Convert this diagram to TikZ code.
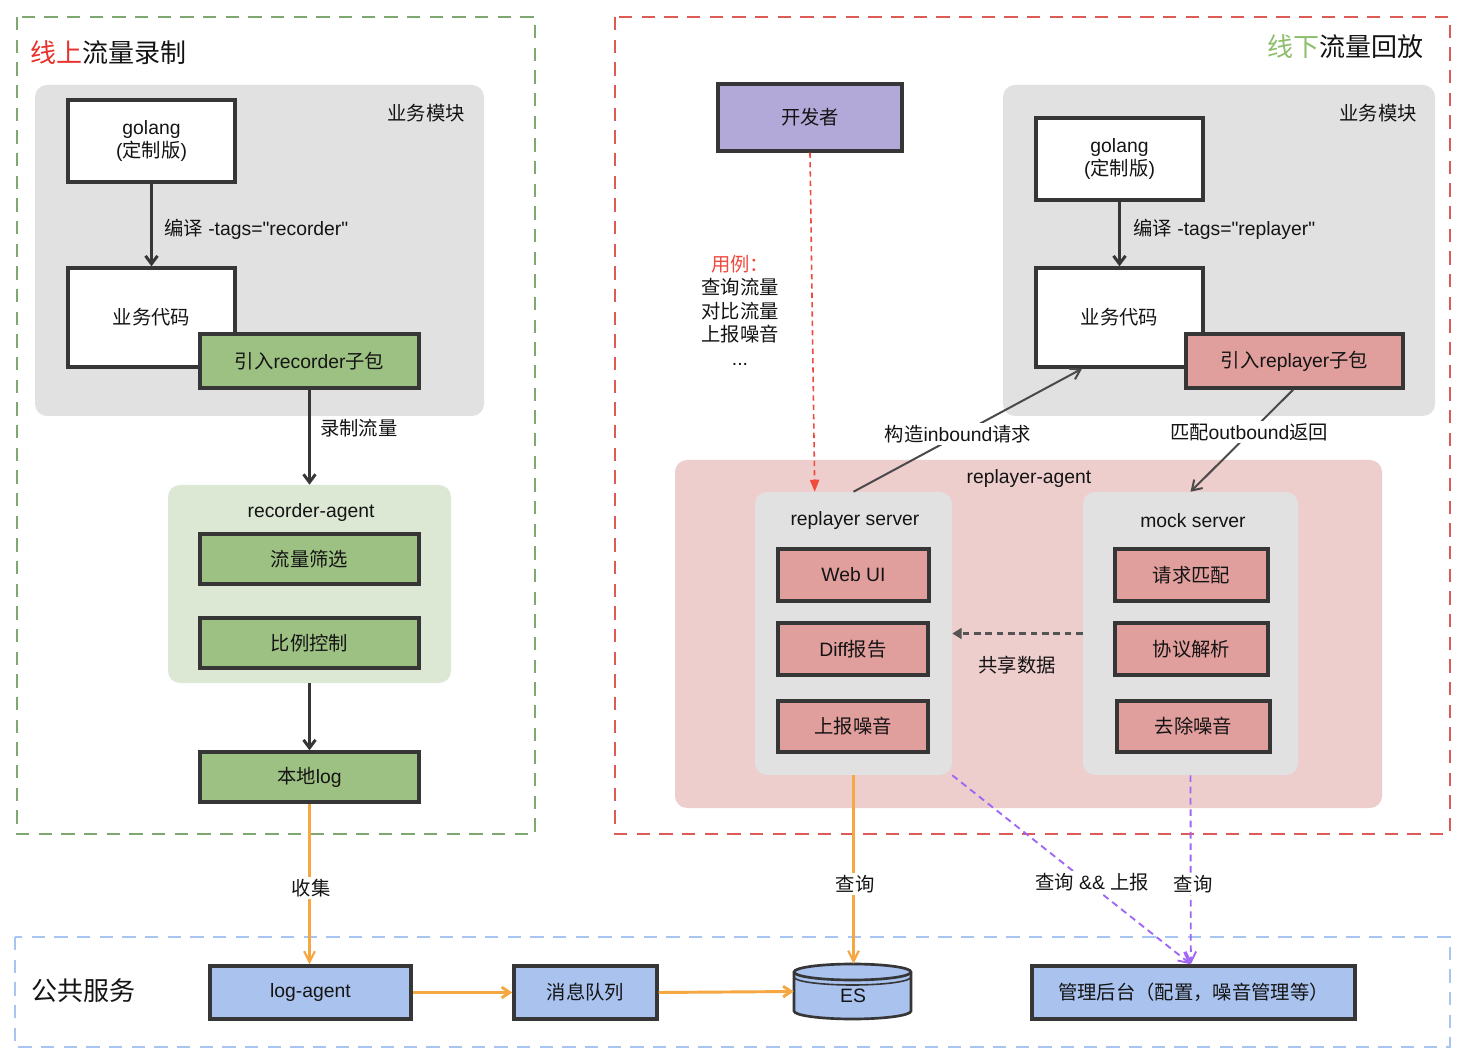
\documentclass[tikz,border=0pt]{standalone}
\usepackage{fontspec}
\setmainfont{Liberation Sans}
\newfontfamily\cjkfont{Noto Sans CJK SC}
\newfontfamily\latinfont{Liberation Sans}
\usetikzlibrary{arrows.meta,calc}

\XeTeXinterchartokenstate=1
\newXeTeXintercharclass\CJKcls
\newcount\mycc
\mycc="3000 \loop \XeTeXcharclass\mycc=\CJKcls \ifnum\mycc<"303F \advance\mycc by 1 \repeat
\mycc="4E00 \loop \XeTeXcharclass\mycc=\CJKcls \ifnum\mycc<"9FFF \advance\mycc by 1 \repeat
\mycc="FF00 \loop \XeTeXcharclass\mycc=\CJKcls \ifnum\mycc<"FFEF \advance\mycc by 1 \repeat
\XeTeXinterchartoks 0 \CJKcls = {\cjkfont}
\XeTeXinterchartoks 4095 \CJKcls = {\cjkfont}
\XeTeXinterchartoks \CJKcls 0 = {\latinfont}
\XeTeXinterchartoks \CJKcls 4095 = {\latinfont}

\definecolor{bord}{HTML}{363636}
\definecolor{txt}{HTML}{141414}
\definecolor{gray1}{HTML}{E1E1E1}
\definecolor{gfill}{HTML}{9DC183}
\definecolor{lgreen}{HTML}{DCE8D4}
\definecolor{pinkbg}{HTML}{EECDCD}
\definecolor{pfill}{HTML}{E09E9C}
\definecolor{purfill}{HTML}{B2A9D8}
\definecolor{bfill}{HTML}{A9C2EE}
\definecolor{orng}{HTML}{F5A742}
\definecolor{purl}{HTML}{A066F5}
\definecolor{redl}{HTML}{EE4A3E}
\definecolor{titlered}{HTML}{E8312A}
\definecolor{titlegreen}{HTML}{8DBE6A}
\definecolor{framegreen}{HTML}{7FA870}
\definecolor{framered}{HTML}{DD5A55}
\definecolor{frameblue}{HTML}{A8C4F0}

\newcommand\bx[7]{\node[#6, minimum width={(#4-#2)*0.75pt}, minimum height={(#5-#3)*0.75pt}] (#1) at ({(#2+#4)/2},{(#3+#5)/2}) {#7};}

\tikzset{
  box/.style={draw=bord, line width=2.6pt, inner sep=0pt, align=center, text=txt},
  region/.style={rounded corners=9pt, inner sep=0pt, draw=none},
  lbl/.style={inner sep=1.5pt, text=txt, align=center},
  ttl/.style={inner sep=0pt, text=txt, font=\fontsize{19.5pt}{22pt}\selectfont},
  frame/.style={line width=1.6pt, dash pattern=on 10pt off 7pt},
  arr/.style={draw=bord, line width=2.2pt, -{Straight Barb[length=6pt,width=9pt]}},
  thinarr/.style={draw=bord!90, line width=1.5pt, -{Straight Barb[length=7pt,width=9pt]}},
  orarr/.style={draw=orng, line width=1.6pt, -{Straight Barb[length=8pt,width=8pt]}},
  orarrb/.style={draw=orng, line width=2.2pt, -{Straight Barb[length=6pt,width=8pt]}},
  purarr/.style={draw=purl, line width=1.4pt, dash pattern=on 5pt off 3.5pt, -{Straight Barb[length=8pt,width=8pt]}},
}

\begin{document}
\begin{tikzpicture}[x=0.75pt,y=-0.75pt, font=\fontsize{14.5pt}{17.25pt}\selectfont]
\useasboundingbox (0,0) rectangle (1472,1062);
\fill[white] (0,0) rectangle (1472,1062);

% frames
\draw[frame, draw=framegreen] (17,17) rectangle (535,834);
\draw[frame, draw=framered] (615,17) rectangle (1450,834);
\draw[frame, draw=frameblue] (15,937) rectangle (1450,1047);

\node[ttl, anchor=west] (t1) at (30,53) {{\color{titlered}线上}流量录制};
\node[ttl, anchor=east] (t2) at (1424,47) {{\color{titlegreen}线下}流量回放};
\node[ttl, anchor=west] (t3) at (31,991) {公共服务};

% ---------- left ----------
\bx{biz1}{35}{85}{484}{416}{region, fill=gray1}{}
\node[lbl, anchor=east] (biz1l) at (467,113) {业务模块};
\bx{golang1}{68}{100}{235}{182}{box, fill=white}{golang\\(定制版)}
\bx{code1}{68}{268}{235}{367}{box, fill=white}{业务代码}
\bx{rec}{200}{334}{419}{388}{box, fill=gfill}{引入recorder子包}
\draw[arr] (golang1) -- (code1);
\node[lbl, anchor=west] (c1l) at (162,229) {编译 -tags="recorder"};

\bx{ragent}{168}{485}{451}{683}{region, fill=lgreen}{}
\node[lbl] (ragentl) at (311,513) {recorder-agent};
\bx{filt}{200}{534}{419}{584}{box, fill=gfill}{流量筛选}
\bx{ratio}{200}{618}{419}{668}{box, fill=gfill}{比例控制}
\bx{llog}{200}{752}{419}{802}{box, fill=gfill}{本地log}
\draw[arr] (rec.south) -- (rec.south |- ragent.north);
\node[lbl, anchor=west] (recl) at (318,428) {录制流量};
\draw[arr] (llog.north |- ragent.south) -- (llog.north);

% ---------- right ----------
\bx{dev}{718}{84}{902}{151}{box, fill=purfill}{开发者}
\node[lbl, font=\fontsize{14.5pt}{17.6pt}\selectfont] (uc) at (740,310) {{\color{redl}用例：}\\查询流量\\对比流量\\上报噪音\\...};

\bx{biz2}{1003}{85}{1435}{416}{region, fill=gray1}{}
\node[lbl, anchor=east] (biz2l) at (1419,113) {业务模块};
\bx{golang2}{1036}{118}{1203}{200}{box, fill=white}{golang\\(定制版)}
\bx{code2}{1036}{268}{1203}{367}{box, fill=white}{业务代码}
\bx{repk}{1186}{334}{1403}{388}{box, fill=pfill}{引入replayer子包}
\draw[arr] (golang2) -- (code2);
\node[lbl, anchor=west] (c2l) at (1131,229) {编译 -tags="replayer"};

\bx{ragent2}{675}{460}{1382}{808}{region, fill=pinkbg}{}
\node[lbl] (ragent2l) at (1029,479) {replayer-agent};
\bx{rs}{755}{492}{952}{775}{region, fill=gray1}{}
\node[lbl] (rsl) at (855,521) {replayer server};
\bx{webui}{778}{549}{929}{601}{box, fill=pfill}{Web UI}
\bx{diff}{778}{623}{928}{675}{box, fill=pfill}{Diff报告}
\bx{noise}{778}{701}{928}{752}{box, fill=pfill}{上报噪音}
\bx{ms}{1083}{492}{1298}{775}{region, fill=gray1}{}
\node[lbl] (msl) at (1193,521) {mock server};
\bx{match}{1115}{549}{1268}{601}{box, fill=pfill}{请求匹配}
\bx{proto}{1115}{623}{1268}{675}{box, fill=pfill}{协议解析}
\bx{denoise}{1117}{701}{1270}{752}{box, fill=pfill}{去除噪音}

\draw[draw=bord!85, line width=2.3pt, dash pattern=on 5pt off 3.5pt, -{Triangle[length=7pt,width=8pt]}] (ms.west) -- (rs.east);
\node[lbl] (sharel) at (1017,665) {共享数据};

\draw[redl, line width=1.2pt, dash pattern=on 4pt off 3pt, -{Triangle[length=9pt,width=7pt]}] (dev.south) -- ([xshift=45pt]rs.north west);

\draw[thinarr] (rs.north) -- ($(code2.south west)!0.28!(code2.south east)$);
\node[lbl, fill=white] (inl) at (958,434) {构造inbound请求};
\draw[thinarr] ([xshift=-1pt]repk.south) -- (ms.north);
\node[lbl, fill=white] (outl) at (1249,432) {匹配outbound返回};

% ---------- bottom ----------
\bx{logagent}{210}{966}{411}{1019}{box, fill=bfill}{log-agent}
\bx{mq}{514}{966}{657}{1019}{box, fill=bfill}{消息队列}
\bx{mgmt}{1032}{966}{1355}{1019}{box, fill=bfill}{管理后台（配置，噪音管理等）}
\node[inner sep=0pt, minimum width={117*0.75pt}, minimum height={55*0.75pt}] (es) at (852.5,991.5) {};
\filldraw[fill=bfill, draw=bord, line width=2pt]
  (794,972) -- (794,1011) arc[start angle=180, end angle=360, x radius=43.875pt, y radius=6pt]
  -- (911,972) arc[start angle=0, end angle=180, x radius=43.875pt, y radius=6pt] -- cycle;
\draw[bord, line width=2pt] (794,972) arc[start angle=180, end angle=360, x radius=43.875pt, y radius=6pt];
\draw[bord, line width=1.2pt] (794,977) arc[start angle=180, end angle=360, x radius=43.875pt, y radius=6pt];
\node[lbl] (esl) at (853,996) {ES};

\draw[orarr] (llog.south) -- (llog.south |- logagent.north);
\node[lbl, fill=white] (coll) at (311,888) {收集};
\draw[orarrb] (logagent.east) -- (mq.west);
\draw[orarrb] (mq.east) -- (es.west);
\draw[orarr] (rs.south) -- (rs.south |- es.north);
\node[lbl, fill=white] (q1l) at (855,884) {查询};
\draw[purarr] (rs.south east) -- ([xshift=-2pt]mgmt.north);
\draw[purarr] (ms.south) -- ([xshift=-2pt]mgmt.north);
\node[lbl, fill=white] (q2l) at (1092,882) {查询 \&\& 上报};
\node[lbl, fill=white] (q3l) at (1193,884) {查询};
\end{tikzpicture}
\end{document}
